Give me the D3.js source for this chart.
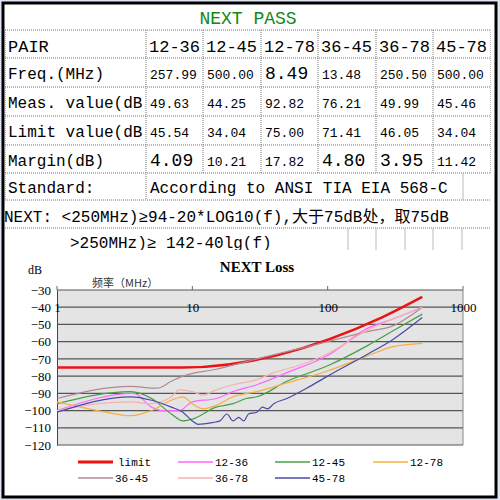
<!DOCTYPE html><html><head><meta charset="utf-8"><script src="https://cdn.jsdelivr.net/npm/d3@7"></script>
<style>body{margin:0;background:#fff}</style></head><body><script>
const pairs=["12-36","12-45","12-78","36-45","36-78","45-78"];
const freqRow=["257.99","500.00","8.49","13.48","250.50","500.00"];
const measRow=["49.63","44.25","92.82","76.21","49.99","45.46"];
const limitRow=["45.54","34.04","75.00","71.41","46.05","34.04"];
const marginRow=["4.09","10.21","17.82","4.80","3.95","11.42"];
const rowLabels=["Freq.(MHz)","Meas. value(dB","Limit value(dB","Margin(dB)"];
const yTicks=[-30,-40,-50,-60,-70,-80,-90,-100,-110,-120];
const xTicks=[1,10,100,1000];
const sNames=["limit","12-36","12-45","12-78","36-45","36-78","45-78"];
const sColors=["#ee1111","#ff66ff","#44a044","#f5b040","#b08898","#f7b0b0","#4a4aa8"];
const limitF=[1,8.4,250,500], limitV=[-75,-75,-46,-34];
const f1236=[1,3.7,5,6,8,10,15,20,30,50,100,200,300,500], v1236=[-100,-90,-98,-100,-100,-95,-93,-89,-85,-78,-68,-52,-47,-40];
const f1245=[1,3.5,5,7,8.5,10,15,20,25,30,50,100,200,300,500], v1245=[-96,-89,-93,-102,-106,-105,-98,-96,-93,-92,-83,-74,-62,-54,-44];
const f1278=[1,2,3.5,5,7,8.5,10,12,15,20,30,50,100,200,300,500], v1278=[-95,-100,-103,-100,-94,-92,-96,-99,-97,-92,-89,-84,-77,-68,-63,-61];
const f3645=[1,3.5,5.5,7,8.5,15,30,100,200,300,500], v3645=[-93,-86,-87,-83,-80,-76,-70,-60,-54,-51,-40];
const f3678=[1,2,3.5,5,7,8,10,12,15,20,30,40,60,100,200,300,500], v3678=[-100,-96,-95,-96,-92,-88,-89,-91,-88,-85,-82,-78,-74,-67,-53,-47,-40];
const f4578=[1,3.5,5,7,8.5,10,11,14,16,18,20,22,24,26,30,33,36,40,50,70,100,200,300,500], v4578=[-101,-92,-94,-98,-101,-106,-108,-107,-106,-102,-106,-104,-106,-102,-101,-98,-99,-96,-93,-87,-80,-67,-59,-46];
const series=[[limitF,limitV],[f1236,v1236],[f1245,v1245],[f1278,v1278],[f3645,v3645],[f3678,v3678],[f4578,v4578]];

const svg=d3.select("body").append("svg").attr("width",500).attr("height",500);
svg.append("rect").attr("width",500).attr("height",500).attr("fill","#dfe6f2");
svg.append("rect").attr("x",3).attr("y",3).attr("width",493).attr("height",494).attr("fill","#fff").attr("stroke","#000").attr("stroke-width",3);
svg.append("clipPath").attr("id","tc").append("rect").attr("x",5).attr("y",5).attr("width",486).attr("height",245);
const mono="'Liberation Mono','Noto Sans CJK SC',monospace";
svg.append("text").attr("x",248).attr("y",24).attr("text-anchor","middle").attr("fill","#118811").attr("font-family",mono).attr("font-size",18).text("NEXT PASS");
const colX=[5,146,203,261,318,376,433,491];
const rowY=[30,58,87,116,145,173,200,228,250];
const g=svg.append("g").attr("clip-path","url(#tc)");
rowY.slice(0,8).forEach(y=>g.append("line").attr("x1",5).attr("x2",491).attr("y1",y).attr("y2",y).attr("stroke","#777").attr("stroke-dasharray","1,1"));
colX.forEach((x,i)=>g.append("line").attr("x1",x).attr("x2",x).attr("y1",30).attr("y2",i==0||i==1?200:173).attr("stroke","#777").attr("stroke-dasharray","1,1"));
[348,376,405,433,462].forEach(x=>g.append("line").attr("x1",x).attr("x2",x).attr("y1",228).attr("y2",250).attr("stroke","#bbb"));
g.append("line").attr("x1",463).attr("x2",463).attr("y1",173).attr("y2",200).attr("stroke","#bbb");
function t(x,y,s,fs){g.append("text").attr("x",x).attr("y",y).attr("font-family",mono).attr("font-size",fs).text(s);}
t(8,52,"PAIR",17);
pairs.forEach((p,i)=>t(colX[i+1]+3,52,p,17));
const rows=[freqRow,measRow,limitRow,marginRow];
rows.forEach((r,j)=>{t(8,rowY[j+1]+21,rowLabels[j],16);
 r.forEach((v,i)=>{const big=v.length<=4; t(colX[i+1]+4,rowY[j+1]+21,v,big?18:13);});});
t(8,193,"Standard:",16); t(150,193,"According to ANSI TIA EIA 568-C",16);
t(4,222,"NEXT: <250MHz)≥94-20*LOG10(f),大于75dB处，取75dB",16);
t(70,248,">250MHz)≥ 142-40lg(f)",16);

// chart
const x=d3.scaleLog().domain([1,1000]).range([57,463]);
const y=d3.scaleLinear().domain([-120,-30]).range([445,290]);
svg.append("rect").attr("x",57).attr("y",290).attr("width",406).attr("height",155).attr("fill","#e4e4e4");
const gy=svg.append("g").attr("transform","translate(57,0)").call(d3.axisLeft(y).tickValues(yTicks).tickSize(0).tickPadding(6));
gy.selectAll("text").attr("font-family","'Liberation Serif',serif").attr("font-size",13).attr("fill","#000");
gy.select(".domain").attr("stroke","#444");
yTicks.forEach(v=>svg.append("line").attr("x1",57).attr("x2",463).attr("y1",y(v)).attr("y2",y(v)).attr("stroke","#555").attr("stroke-width",1.2));
svg.append("line").attr("x1",463).attr("x2",463).attr("y1",290).attr("y2",445).attr("stroke","#888");
const gx=svg.append("g").attr("transform",`translate(0,${y(-40)})`).call(d3.axisTop(x).tickValues(xTicks).tickFormat(d3.format("d")).tickSize(0).tickPadding(-5));
gx.select(".domain").remove();
gx.selectAll("text").attr("font-family","'Liberation Serif',serif").attr("font-size",13).attr("fill","#000").attr("dy","0.35em").attr("y",0);
xTicks.forEach(v=>svg.append("line").attr("x1",x(v)).attr("x2",x(v)).attr("y1",286).attr("y2",290).attr("stroke","#666"));
svg.append("text").attr("x",257).attr("y",272).attr("text-anchor","middle").attr("font-family","'Liberation Serif',serif").attr("font-weight","bold").attr("font-size",15).text("NEXT Loss");
svg.append("text").attr("x",28).attr("y",274).attr("font-family","'Liberation Serif',serif").attr("font-size",12).text("dB");
svg.append("text").attr("x",92).attr("y",287).attr("font-family","'Noto Sans CJK SC',sans-serif").attr("font-size",11).attr("fill","#333").text("频率（MHz）");
const line=d3.line().x(d=>x(d[0])).y(d=>y(d[1])).curve(d3.curveMonotoneX);
series.forEach((s,i)=>{const pts=s[0].map((f,k)=>[f,s[1][k]]);
 svg.append("path").attr("d",line(pts)).attr("fill","none").attr("stroke",sColors[i]).attr("stroke-width",i==0?2.5:1.2);});
const lp=[[78,462],[178,462],[275,462],[373,462],[78,478],[178,478],[275,478]];
sNames.forEach((n,i)=>{const [lx,ly]=lp[i];
 svg.append("line").attr("x1",lx).attr("x2",lx+35).attr("y1",ly).attr("y2",ly).attr("stroke",sColors[i]).attr("stroke-width",i==0?3:1.5);
 svg.append("text").attr("x",i==0?lx+40:lx+37).attr("y",ly+4).attr("font-family",mono).attr("font-size",11).text(n);});
</script></body></html>
